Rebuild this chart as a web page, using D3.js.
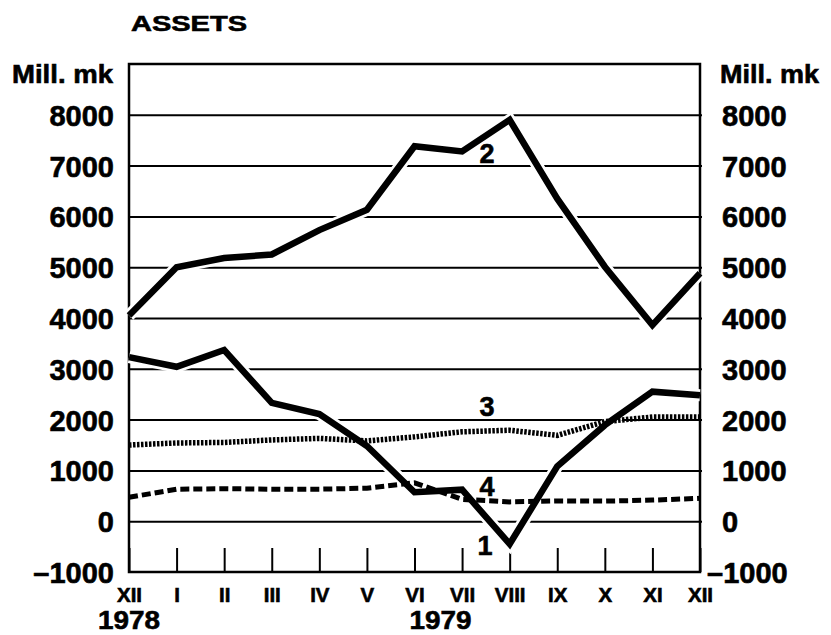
<!DOCTYPE html>
<html>
<head>
<meta charset="utf-8">
<script src="https://cdn.jsdelivr.net/npm/d3@7"></script>
<style>
  html, body { margin: 0; padding: 0; background: #fff; }
  svg { display: block; }
  text { font-family: "Liberation Sans", Arial, sans-serif; font-weight: bold; fill: #000; stroke: #000; stroke-width: 0.6px; }
</style>
</head>
<body>
<svg id="chart" width="831" height="635"></svg>
<script>
// ---- data ----
const months = ["XII", "I", "II", "III", "IV", "V", "VI", "VII", "VIII", "IX", "X", "XI", "XII"];
const yearLabels = ["1978", "1979"];
const yTicks = [-1000, 0, 1000, 2000, 3000, 4000, 5000, 6000, 7000, 8000];
const series1 = [3230, 3040, 3370, 2330, 2110, 1480, 570, 620, -450, 1080, 1890, 2550, 2480];
const series2 = [4050, 5000, 5180, 5250, 5730, 6130, 7380, 7280, 7900, 6350, 5010, 3860, 4880];
const series3 = [1500, 1540, 1550, 1600, 1630, 1580, 1660, 1760, 1790, 1690, 1960, 2050, 2050];
const series4 = [470, 630, 640, 630, 630, 650, 755, 430, 380, 400, 395, 415, 450];
const seriesNames = ["1", "2", "3", "4"];

(function () {
// ---- layout ----
const svg = d3.select("#chart");
const x = d3.scalePoint().domain(d3.range(months.length)).range([129, 700]);
const y = d3.scaleLinear().domain([-1000, 9000]).range([572, 64]);
const pLeft = 129, pRight = 700, pTop = y(9000), pBottom = y(-1000);

// gridlines
const grid = svg.append("g").attr("transform", `translate(${pLeft},0)`)
  .call(d3.axisRight(y).tickValues(yTicks.filter(v => v >= 0)).tickSize(pRight - pLeft + 2).tickFormat(""));
grid.select(".domain").remove();
grid.selectAll(".tick line").attr("stroke", "#000").attr("stroke-width", 2);

// frame
svg.append("path")
  .attr("d", `M${pLeft},${pTop}H${pRight}V${pBottom}H${pLeft}Z`)
  .attr("fill", "none").attr("stroke", "#000").attr("stroke-width", 2.5);

// x axis ticks + month labels
const xa = svg.append("g").attr("transform", `translate(0,${pBottom})`)
  .call(d3.axisBottom(x).tickSizeInner(-24).tickSizeOuter(0).tickPadding(15).tickFormat(i => months[i]));
xa.select(".domain").remove();
xa.selectAll(".tick line").attr("stroke", "#000").attr("stroke-width", 2);
xa.selectAll(".tick text").attr("font-size", 20.5).attr("font-family", null).attr("fill", "#000");

// year labels
svg.append("text").attr("x", x(0)).attr("y", 629).attr("text-anchor", "middle").attr("font-size", 25.5).attr("textLength", 62).attr("lengthAdjust", "spacingAndGlyphs").text(yearLabels[0]);
svg.append("text").attr("x", x(6) + 26).attr("y", 629).attr("text-anchor", "middle").attr("font-size", 25.5).attr("textLength", 62).attr("lengthAdjust", "spacingAndGlyphs").text(yearLabels[1]);

// y axis labels (left and right)
const fmt = v => (v < 0 ? "\u2013" + Math.abs(v) : String(v));
const ya = svg.append("g").attr("transform", `translate(${pLeft},0)`)
  .call(d3.axisLeft(y).tickValues(yTicks).tickSize(0).tickPadding(15).tickFormat(fmt));
ya.select(".domain").remove();
ya.selectAll(".tick text").attr("font-size", 29).attr("font-family", null).attr("fill", "#000").attr("dy", "0.36em");

const yr = svg.append("g").attr("transform", `translate(${pRight},0)`)
  .call(d3.axisRight(y).tickValues(yTicks).tickSize(0).tickPadding(22).tickFormat(fmt));
yr.select(".domain").remove();
yr.selectAll(".tick text").attr("font-size", 29).attr("font-family", null).attr("fill", "#000").attr("dy", "0.36em")
  .attr("x", d => d < 0 ? 7 : 22);

// unit labels and title
svg.append("text").attr("x", 12).attr("y", 83).attr("font-size", 25).attr("textLength", 101).attr("lengthAdjust", "spacingAndGlyphs").text("Mill. mk");
svg.append("text").attr("x", 720).attr("y", 83).attr("font-size", 25).attr("textLength", 99).attr("lengthAdjust", "spacingAndGlyphs").text("Mill. mk");
svg.append("text").attr("x", 131).attr("y", 31).attr("font-size", 22.5).attr("textLength", 116).attr("lengthAdjust", "spacingAndGlyphs").text("ASSETS");

// lines
const line = d3.line().x((d, i) => x(i)).y(d => y(d));
const halo = svg.append("g");
[series1, series2].forEach(s => {
  halo.append("path").attr("d", line(s)).attr("fill", "none").attr("stroke", "#fff")
    .attr("stroke-width", 12).attr("stroke-linejoin", "miter");
});

svg.append("path").attr("d", line(series4)).attr("fill", "none").attr("stroke", "#000")
  .attr("stroke-width", 5).attr("stroke-dasharray", "9,4");
svg.append("path").attr("d", line(series3)).attr("fill", "none").attr("stroke", "#000")
  .attr("stroke-width", 5.5).attr("stroke-dasharray", "2.5,1.5");
[series1, series2].forEach(s => {
  svg.append("path").attr("d", line(s)).attr("fill", "none").attr("stroke", "#000")
    .attr("stroke-width", 6.5).attr("stroke-linejoin", "miter").attr("stroke-miterlimit", 10);
});

// series labels
const labelPos = [[485, 545], [487, 153], [487, 406], [487, 486]];
seriesNames.forEach((n, i) => {
  svg.append("text").attr("x", labelPos[i][0]).attr("y", labelPos[i][1]).attr("dy", "0.36em")
    .attr("text-anchor", "middle").attr("font-size", 27).text(n);
});
})();
</script>
</body>
</html>
